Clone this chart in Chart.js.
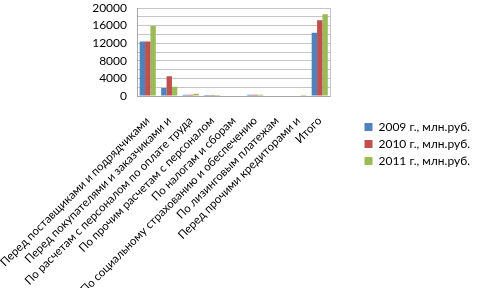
<!DOCTYPE html>
<html>
<head>
<meta charset="utf-8">
<script src="https://cdn.jsdelivr.net/npm/chart.js@4"></script>
<style>
  html, body { margin: 0; padding: 0; background: #fff; }
</style>
</head>
<body>
<canvas id="chart" width="480" height="288"></canvas>
<script>
  // Задолженность по видам, млн.руб.
  const categories = [
    'Перед поставщиками и подрядчиками',
    'Перед покупателями и заказчиками и',
    'По расчетам с персоналом по оплате труда',
    'По прочим расчетам с персоналом',
    'По налогам и сборам',
    'По социальному страхованию и обеспечению',
    'По лизинговым платежам',
    'Перед прочими кредиторами и',
    'Итого'
  ];
  const values2009 = [12400, 1800, 300, 200, 0, 300, 0, 0, 14400];
  const values2010 = [12400, 4500, 300, 200, 0, 300, 0, 0, 17200];
  const values2011 = [15900, 2100, 500, 250, 0, 300, 0, 200, 18600];
  const yTickLabels = [0, 4000, 8000, 12000, 16000, 20000];

  const font = { family: 'Lato', size: 12 };

  new Chart(document.getElementById('chart'), {
    type: 'bar',
    data: {
      labels: categories,
      datasets: [
        { label: '2009 г., млн.руб.', data: values2009, backgroundColor: '#4f81bd' },
        { label: '2010 г., млн.руб.', data: values2010, backgroundColor: '#c0504d' },
        { label: '2011 г., млн.руб.', data: values2011, backgroundColor: '#9bbb59' }
      ]
    },
    options: {
      responsive: false,
      animation: false,
      datasets: { bar: { categoryPercentage: 0.75, barPercentage: 1 } },
      layout: { padding: 0 },
      plugins: {
        legend: {
          position: 'right',
          maxWidth: 140,
          labels: { boxWidth: 8, boxHeight: 8, padding: 5, color: '#000', font: font }
        },
        tooltip: { enabled: false }
      },
      scales: {
        x: {
          grid: { display: false },
          border: { color: '#a6a6a6' },
          ticks: { autoSkip: false, minRotation: 45, maxRotation: 45, padding: 10, color: '#000', font: { family: 'Lato', size: 11.5 } },
          afterFit(s) { s.paddingLeft = 0; s.paddingRight = 0; s.height = 192; }
        },
        y: {
          min: 0,
          max: 20000,
          grid: { color: '#c4c4c4', drawTicks: false },
          border: { color: '#a6a6a6' },
          ticks: {
            autoSkip: false,
            stepSize: 2000,
            padding: 10,
            color: '#000',
            font: font,
            callback: v => yTickLabels.includes(v) ? v : ''
          },
          afterFit(s) { s.width = 137; s.paddingTop = 8; }
        },
        // пустая ось справа — отступ между областью и легендой
        y2: {
          position: 'right',
          grid: { display: false },
          ticks: { display: false },
          border: { color: '#c4c4c4' },
          afterFit(s) { s.width = 29; }
        }
      }
    }
  });
</script>
</body>
</html>
